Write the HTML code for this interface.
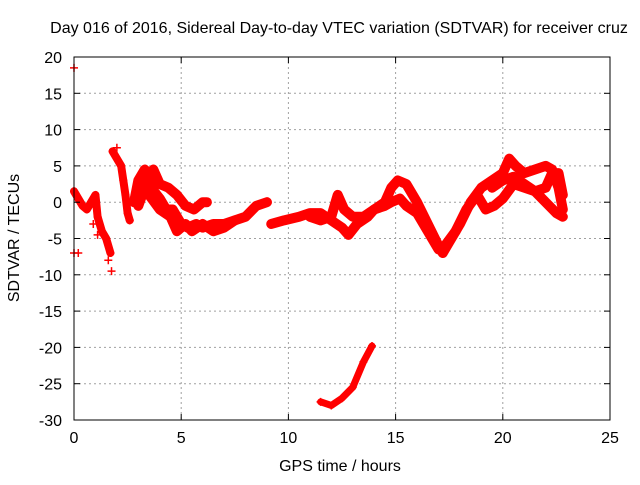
<!DOCTYPE html>
<html><head><meta charset="utf-8"><style>
body{margin:0;background:#fff}
text{font-family:"Liberation Sans",sans-serif;font-size:16px;fill:#000}
</style></head><body>
<svg id="chart" width="640" height="480" viewBox="0 0 640 480">
<rect width="640" height="480" fill="#fff"/>
<g id="grid"></g><g id="marks"></g><g id="axes"></g>
<text x="339" y="33" text-anchor="middle">Day 016 of 2016, Sidereal Day-to-day VTEC variation (SDTVAR) for receiver cruz</text>
<text x="340" y="471" text-anchor="middle">GPS time / hours</text>
<text transform="translate(19,238) rotate(-90)" text-anchor="middle">SDTVAR / TECUs</text>
</svg>
<script>
const xTicks=[0,5,10,15,20,25];
const yTicks=[20,15,10,5,0,-5,-10,-15,-20,-25,-30];
const trackEarly=[[0,1.5],[0.2,0.5],[0.4,-0.5],[0.6,-1],[0.8,0],[1.0,1],[1.1,-2],[1.3,-4],[1.5,-5],[1.7,-7]];
const trackSpike=[[1.8,7],[2.0,6],[2.2,5],[2.3,3],[2.4,1],[2.5,-1.5],[2.6,-2.5]];
const bandA=[[2.8,0],[3.0,3],[3.3,4.5],[3.6,2],[4.0,0.5],[4.3,-1],[4.6,-1],[5.0,-3],[5.3,-3.5],[5.7,-3],[6.0,-3.5],[6.5,-3],[7.0,-3],[7.5,-2.5],[8.0,-2],[8.5,-0.5],[9.0,0]];
const bandB=[[3.0,-0.5],[3.3,2],[3.7,4.5],[4.0,2.5],[4.4,2],[4.8,1],[5.2,-0.5],[5.6,-1],[6.0,0],[6.2,0]];
const bandC=[[3.5,1],[4.0,-1],[4.5,-2],[4.8,-4],[5.2,-3],[5.5,-4],[6.0,-3],[6.5,-4],[7.0,-3.5],[7.5,-2.5]];
const bandMain=[[9.2,-3],[9.8,-2.5],[10.5,-2],[11,-1.5],[11.5,-1.5],[12,-2.5],[12.5,-3.5],[12.8,-4.5],[13.2,-3],[13.7,-2],[14,-1],[14.5,0],[14.8,2],[15.1,3],[15.5,2.5],[16,0],[16.5,-3],[17,-6],[17.2,-7],[17.5,-5.5],[18,-3],[18.5,0],[19,2],[19.5,3],[20,4],[20.3,6],[20.6,5],[21,4],[21.5,4.5],[22,5],[22.3,4.5],[22.6,2],[22.8,-1]];
const bandMid=[[11,-2],[11.5,-2.5],[12,-2],[12.3,1],[12.6,-1],[13,-2],[13.5,-2],[14,-1],[14.5,-0.5],[14.8,0],[15.2,0.5],[15.5,-0.5],[16,-1.5],[16.5,-4],[17,-6.5],[17.3,-6],[17.8,-4],[18.3,-1],[18.8,1],[19.2,-1],[19.6,-0.5],[20,0.5],[20.5,2.5],[21,2],[21.5,1.5],[22,0],[22.5,-1.5],[22.8,-2]];
const bandUpper=[[19.5,2],[20,3],[20.5,3.5],[21,2.5],[21.5,1.5],[22,2],[22.3,4],[22.6,4],[22.8,1]];
const trackLow=[[11.5,-27.5],[12,-28],[12.5,-27],[13,-25.5],[13.5,-22],[13.9,-19.8]];
const outliers=[[0,18.5],[0,-7],[1.75,-9.5],[1.1,-4.5],[1.6,-8],[0.2,-7],[0.9,-3],[2.0,7.5]];
const X0=74,X1=610,Y0=420,Y1=57,xmin=0,xmax=25,ymin=-30,ymax=20;
const sx=v=>X0+(v-xmin)/(xmax-xmin)*(X1-X0);
const sy=v=>Y0-(v-ymin)/(ymax-ymin)*(Y0-Y1);
const NS="http://www.w3.org/2000/svg";
function mk(t,a,p){const e=document.createElementNS(NS,t);for(const k in a)e.setAttribute(k,a[k]);p.appendChild(e);return e;}
const grid=document.getElementById('grid'),axes=document.getElementById('axes'),marks=document.getElementById('marks');
xTicks.forEach(t=>{const x=sx(t);
 if(t>xmin&&t<xmax){const g=mk('line',{x1:x,x2:x,y1:Y1,y2:Y0,stroke:'#a0a0a0','stroke-dasharray':'2,3'},grid);}
 mk('line',{x1:x,x2:x,y1:Y0,y2:Y0-6,stroke:'#000'},axes);mk('line',{x1:x,x2:x,y1:Y1,y2:Y1+6,stroke:'#000'},axes);
 const l=mk('text',{x:x,y:Y0+23,'text-anchor':'middle'},axes);l.textContent=t;
 
 });
yTicks.forEach(t=>{const y=sy(t);
 if(t>ymin&&t<ymax){const g=mk('line',{x1:X0,x2:X1,y1:y,y2:y,stroke:'#a0a0a0','stroke-dasharray':'2,3'},grid);}
 mk('line',{x1:X0,x2:X0+6,y1:y,y2:y,stroke:'#000'},axes);mk('line',{x1:X1,x2:X1-6,y1:y,y2:y,stroke:'#000'},axes);
 const l=mk('text',{x:X0-12,y:y+6,'text-anchor':'end'},axes);l.textContent=t;
 
 });
const fr=mk('rect',{x:X0,y:Y1,width:X1-X0,height:Y0-Y1,fill:'none',stroke:'#000'},axes);


function plus(p,x,y){mk('path',{d:`M${x-4},${y}h8M${x},${y-4}v8`,stroke:'#f00','stroke-width':1.5},p);}
function series(name,arr,line,w){
 const g=mk('g',{},marks);
 
 
 if(line){mk('polyline',{points:arr.map(d=>sx(d[0])+','+sy(d[1])).join(' '),fill:'none',stroke:'#f00','stroke-width':w||10,'stroke-linejoin':'round','stroke-linecap':'round'},g);}
 arr.forEach(d=>plus(g,sx(d[0]),sy(d[1])));
}
series('track-early',trackEarly,true,8);
series('track-spike',trackSpike,true,8);
series('band-a',bandA,true);
series('band-b',bandB,true);
series('band-c',bandC,true);
series('band-main',bandMain,true);
series('band-mid',bandMid,true);
series('band-upper',bandUpper,true);
series('track-low',trackLow,true,7);
series('outliers',outliers,false);
</script>
</body></html>
